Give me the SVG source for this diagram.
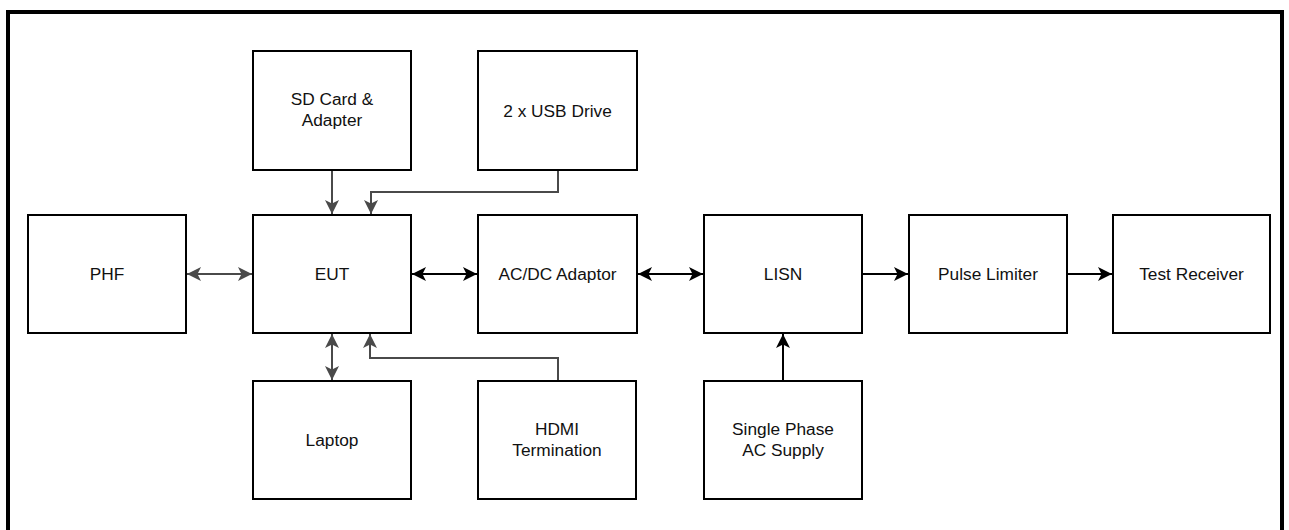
<svg xmlns="http://www.w3.org/2000/svg" width="1289" height="530" viewBox="0 0 1289 530">
<defs>
<style>
.box{fill:#fff;stroke:#000;stroke-width:2}
.lbl{font-family:"Liberation Sans",Arial,sans-serif;font-size:17.3px;fill:#111;text-anchor:middle}
.g{fill:none;stroke:#4a4a4a;stroke-width:2}
.k{fill:none;stroke:#000;stroke-width:2}
</style>
<marker id="ag" viewBox="0 0 14 14" refX="14" refY="7" markerWidth="14" markerHeight="14" markerUnits="userSpaceOnUse" orient="auto-start-reverse"><path d="M0,0 L14,7 L0,14 L3.5,7 z" fill="#4a4a4a"/></marker>
<marker id="ak" viewBox="0 0 14 14" refX="14" refY="7" markerWidth="14" markerHeight="14" markerUnits="userSpaceOnUse" orient="auto-start-reverse"><path d="M0,0 L14,7 L0,14 L3.5,7 z" fill="#000"/></marker>
</defs>
<rect x="0" y="0" width="1289" height="530" fill="#fff"/>
<rect x="8" y="12" width="1274" height="530" fill="none" stroke="#000" stroke-width="4"/>
<g id="connectors">
<path class="g" d="M332,171 V214" marker-end="url(#ag)"/>
<path class="g" d="M558,171 V192 H371 V214" marker-end="url(#ag)"/>
<path class="g" d="M187,274 H252" marker-start="url(#ag)" marker-end="url(#ag)"/>
<path class="k" d="M412,274 H477" marker-start="url(#ak)" marker-end="url(#ak)"/>
<path class="k" d="M638,274 H703" marker-start="url(#ak)" marker-end="url(#ak)"/>
<path class="k" d="M863,274 H908" marker-end="url(#ak)"/>
<path class="k" d="M1068,274 H1112" marker-end="url(#ak)"/>
<path class="k" d="M783,380 V334" marker-end="url(#ak)"/>
<path class="g" d="M332,334 V380" marker-start="url(#ag)" marker-end="url(#ag)"/>
<path class="g" d="M558,380 V358 H370 V334" marker-end="url(#ag)"/>
</g>
<g id="sdcard"><rect class="box" x="253" y="51" width="158" height="119"/><text class="lbl" x="332" y="105">SD Card &amp;</text><text class="lbl" x="332" y="126">Adapter</text></g>
<g id="usb"><rect class="box" x="478" y="51" width="159" height="119"/><text class="lbl" x="557.5" y="116.5">2 x USB Drive</text></g>
<g id="phf"><rect class="box" x="28" y="215" width="158" height="118"/><text class="lbl" x="107" y="280">PHF</text></g>
<g id="eut"><rect class="box" x="253" y="215" width="158" height="118"/><text class="lbl" x="332" y="280">EUT</text></g>
<g id="acdc"><rect class="box" x="478" y="215" width="159" height="118"/><text class="lbl" x="557.5" y="280">AC/DC Adaptor</text></g>
<g id="lisn"><rect class="box" x="704" y="215" width="158" height="118"/><text class="lbl" x="783" y="280">LISN</text></g>
<g id="pulse"><rect class="box" x="909" y="215" width="158" height="118"/><text class="lbl" x="988" y="280">Pulse Limiter</text></g>
<g id="receiver"><rect class="box" x="1113" y="215" width="157" height="118"/><text class="lbl" x="1191.5" y="280">Test Receiver</text></g>
<g id="laptop"><rect class="box" x="253" y="381" width="158" height="118"/><text class="lbl" x="332" y="446">Laptop</text></g>
<g id="hdmi"><rect class="box" x="478" y="381" width="158" height="118"/><text class="lbl" x="557" y="435">HDMI</text><text class="lbl" x="557" y="456">Termination</text></g>
<g id="supply"><rect class="box" x="704" y="381" width="158" height="118"/><text class="lbl" x="783" y="435">Single Phase</text><text class="lbl" x="783" y="456">AC Supply</text></g>
</svg>
